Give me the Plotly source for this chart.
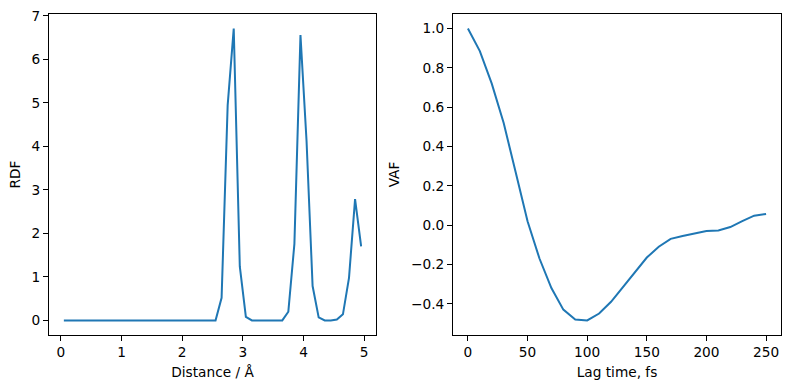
import plotly.graph_objects as go

# RDF data
rdf_r = [round(0.05 + 0.1 * i, 2) for i in range(50)]
rdf_g = ([0.0] * 26
         + [0.52, 4.95, 6.71, 1.24, 0.08]
         + [0.0, 0.0, 0.0, 0.0, 0.0, 0.0]
         + [0.2, 1.76, 6.56, 4.13, 0.79, 0.07]
         + [0.0, 0.0, 0.02, 0.14, 0.98, 2.79, 1.70])

# VAF data
vaf_t = [0, 10, 20, 30, 40, 50, 60, 70, 80, 90, 100, 110, 120, 130, 140, 150,
         160, 170, 180, 190, 200, 210, 220, 230, 240, 250]
vaf_v = [1.0, 0.885, 0.72, 0.52, 0.27, 0.02, -0.17, -0.32, -0.43, -0.48,
         -0.485, -0.45, -0.39, -0.315, -0.24, -0.165, -0.11, -0.07, -0.055,
         -0.043, -0.03, -0.027, -0.01, 0.02, 0.048, 0.057]

W, H = 789, 389
color = "#1f77b4"
font = dict(family="DejaVu Sans", size=13.7, color="black")

fig = go.Figure()
fig.add_trace(go.Scatter(x=rdf_r, y=rdf_g, mode="lines",
                         line=dict(color=color, width=2), xaxis="x", yaxis="y"))
fig.add_trace(go.Scatter(x=vaf_t, y=vaf_v, mode="lines",
                         line=dict(color=color, width=2), xaxis="x2", yaxis="y2"))

ydom = [(H - 335) / H, (H - 14) / H]
common = dict(showline=True, mirror=True, linecolor="black", linewidth=1,
              ticks="outside", ticklen=5, tickwidth=1, tickcolor="black",
              showgrid=False, zeroline=False, tickfont=font, automargin=False)

fig.update_layout(
    width=W, height=H, margin=dict(l=0, r=0, t=0, b=0, autoexpand=False),
    paper_bgcolor="white", plot_bgcolor="white", showlegend=False,
    font=font,
    xaxis=dict(domain=[49 / W, 376 / W], range=[-0.195, 5.195], tickvals=[0, 1, 2, 3, 4, 5],
               title=dict(text="Distance / Å", font=font, standoff=7), anchor="y", **common),
    yaxis=dict(domain=ydom, range=[-0.3355, 7.0455], tickvals=[0, 1, 2, 3, 4, 5, 6, 7],
               title=dict(text="RDF", font=font, standoff=7), anchor="x", **common),
    xaxis2=dict(domain=[453 / W, 781 / W], range=[-12.5, 262.5], tickvals=[0, 50, 100, 150, 200, 250],
                title=dict(text="Lag time, fs", font=font, standoff=7), anchor="y2", **common),
    yaxis2=dict(domain=ydom, range=[-0.559, 1.074], tickvals=[-0.4, -0.2, 0.0, 0.2, 0.4, 0.6, 0.8, 1.0],
                tickformat=".1f", title=dict(text="VAF", font=font, standoff=8), anchor="x2", **common),
)

fig.write_html("out.html", config={"displayModeBar": False},
               post_script="document.body.style.margin='0';")
